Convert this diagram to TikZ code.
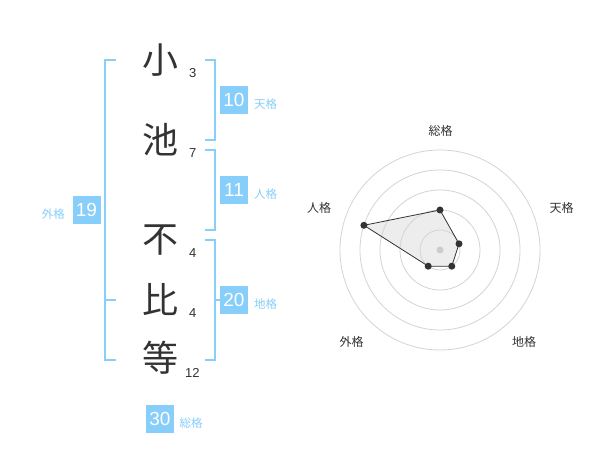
\documentclass[tikz,border=0pt]{standalone}
\usepackage{fontspec}
\setmainfont{Liberation Sans}
\newfontfamily\cjk{Noto Sans CJK JP}
\definecolor{sky}{HTML}{87CEFA}
\definecolor{ink}{HTML}{333333}
\begin{document}
\begin{tikzpicture}[x=1pt,y=-1pt,
 bracket/.style={draw=sky,line width=2pt},
 numbox/.style={fill=sky,text=white,minimum width=28pt,minimum height=28pt,inner sep=0pt,font=\fontsize{19}{19}\selectfont},
 kaku/.style={text=sky,font=\cjk\fontsize{11.5}{12}\selectfont,inner sep=0pt},
 glyph/.style={text=ink,font=\cjk\fontsize{36}{36}\selectfont,inner sep=0pt},
 strokes/.style={text=ink,font=\fontsize{13}{13}\selectfont,inner sep=0pt},
 ring/.style={draw=black!17,line width=0.8pt},
 axislabel/.style={text=ink,font=\cjk\fontsize{12}{12}\selectfont,inner sep=0pt},
 vertex/.style={circle,fill=ink,inner sep=0pt,minimum size=7pt}]
\useasboundingbox[fill=white] (0,0) rectangle (600,470);

% characters
\node[glyph] (c1) at (160,60) {小};
\node[glyph] (c2) at (160,140) {池};
\node[glyph] (c3) at (160,240) {不};
\node[glyph] (c4) at (160,300) {比};
\node[glyph] (c5) at (160,358) {等};
% stroke counts
\node[strokes] (s1) at (192.7,72.7) {3};
\node[strokes] (s2) at (192.7,152.7) {7};
\node[strokes] (s3) at (192.7,253.3) {4};
\node[strokes] (s4) at (192.7,313.3) {4};
\node[strokes] (s5) at (192.3,372.7) {12};

% brackets
\draw[bracket] (116,60) -- (105,60) -- (105,360) -- (116,360);
\draw[bracket] (105,300) -- (116,300);
\draw[bracket] (205,60) -- (215,60) -- (215,140) -- (205,140);
\draw[bracket] (205,150) -- (215,150) -- (215,230) -- (205,230);
\draw[bracket] (205,240) -- (215,240) -- (215,360) -- (205,360);

% number boxes and labels
\node[numbox] (ten) at (234,100) {10};
\node[kaku,anchor=west] (tenl) at (254,104) {天格};
\node[numbox] (jin) at (234,190) {11};
\node[kaku,anchor=west] (jinl) at (254,194) {人格};
\node[numbox] (chi) at (234,300) {20};
\node[kaku,anchor=west] (chil) at (254,304) {地格};
\node[numbox] (gai) at (86.5,210) {19};
\node[kaku,anchor=east] (gail) at (65,214) {外格};
\node[numbox] (sou) at (160,419) {30};
\node[kaku,anchor=west] (soul) at (179.5,423) {総格};
\draw[bracket] (215,300) -- (chi.west);

% radar
\coordinate (rc) at (440,250);
\coordinate (p1) at (440,210);
\coordinate (p2) at (459.0,243.8);
\coordinate (p3) at (451.8,266.2);
\coordinate (p4) at (428.2,266.2);
\coordinate (p5) at (363.9,225.3);
\fill[black!7] (p1) -- (p2) -- (p3) -- (p4) -- (p5) -- cycle;
\foreach \r in {20,40,60,80,100} \draw[ring] (rc) circle[radius=\r];
\fill[black!20] (rc) circle[radius=3.5];
\draw[draw=ink,line width=0.8pt] (p1) -- (p2) -- (p3) -- (p4) -- (p5) -- cycle;
\foreach \p in {p1,p2,p3,p4,p5} \node[vertex] at (\p) {};
\node[axislabel] (a1) at (440.7,130.7) {総格};
\node[axislabel] (a2) at (561.7,208.3) {天格};
\node[axislabel] (a3) at (524,341.7) {地格};
\node[axislabel] (a4) at (351.7,341.7) {外格};
\node[axislabel] (a5) at (319,208.3) {人格};
\end{tikzpicture}
\end{document}
